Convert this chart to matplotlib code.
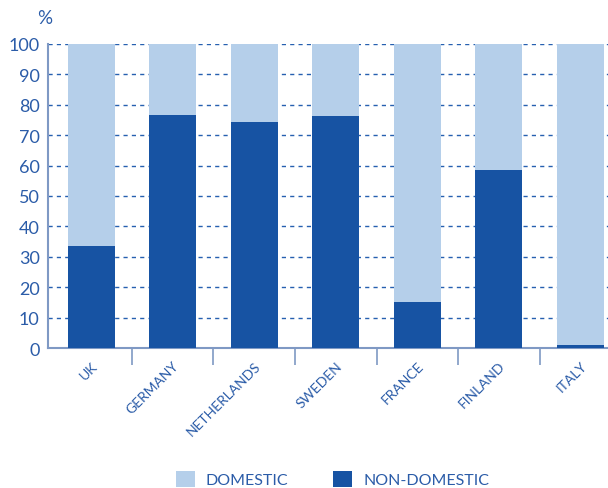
import numpy as np
import matplotlib.pyplot as plt

countries = ['UK', 'GERMANY', 'NETHERLANDS', 'SWEDEN', 'FRANCE', 'FINLAND', 'ITALY']
non_domestic = [33.5, 76.8, 74.2, 76.2, 15.1, 58.6, 1.0]
domestic = [100 - v for v in non_domestic]

dark = '#1753a3'
light = '#b5cfea'
txt = '#2b5ca8'
axcol = '#7f99c4'

plt.rcParams['font.family'] = ['Lato', 'DejaVu Sans']

fig = plt.figure(figsize=(6.08, 4.89), dpi=100)
ax = fig.add_axes([48 / 608, 140 / 489, 1 - 48 / 608, 304 / 489])

x = np.arange(len(countries))
ax.bar(x, non_domestic, width=0.58, color=dark, zorder=3, label='NON-DOMESTIC')
ax.bar(x, domestic, width=0.58, bottom=non_domestic, color=light, zorder=3, label='DOMESTIC')

ax.set_xlim(-0.53, 6.34)
ax.set_ylim(0, 100)
ax.set_yticks(np.arange(0, 101, 10))
ax.yaxis.grid(True, color='#2660b0', linestyle=(0, (3, 3)), linewidth=1, zorder=0)
ax.tick_params(axis='y', length=0, labelsize=13, labelcolor=txt, pad=6)

# category labels
ax.set_xticks(x)
ax.set_xticklabels(countries, rotation=45, ha='right', rotation_mode='anchor',
                   fontsize=10, color=txt)
ax.tick_params(axis='x', length=0, pad=8)
# separator ticks between categories
ax.set_xticks(x[:-1] + 0.5, minor=True)
ax.tick_params(axis='x', which='minor', length=12, width=1.2, color=axcol)

for s in ['top', 'right']:
    ax.spines[s].set_visible(False)
for s in ['left', 'bottom']:
    ax.spines[s].set_color(axcol)
    ax.spines[s].set_linewidth(1.5)

fig.text(45 / 608, 1 - 18 / 489, '%', fontsize=13.5, color=txt, ha='center', va='center')

handles, labels = ax.get_legend_handles_labels()
leg = fig.legend(handles[::-1], labels[::-1], loc='center', bbox_to_anchor=(0.547, 1 - 480 / 489),
                 ncol=2, frameon=False, fontsize=11.5, handlelength=1.2, handleheight=1.15,
                 handletextpad=0.7, columnspacing=2.8)
for t in leg.get_texts():
    t.set_color(txt)

fig.savefig('out.png', dpi=100)
